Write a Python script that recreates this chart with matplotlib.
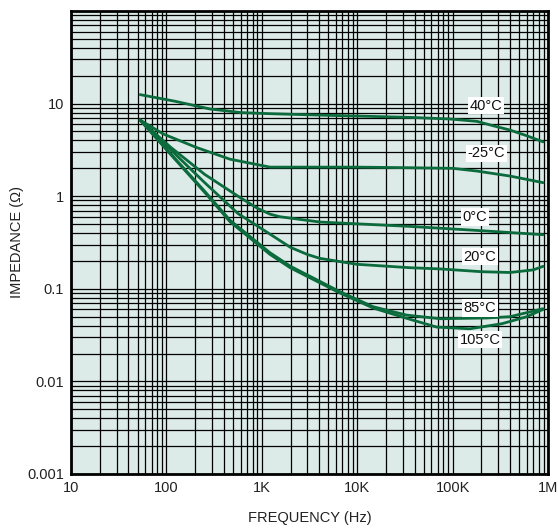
import matplotlib
matplotlib.use("Agg")
import matplotlib.pyplot as plt
from matplotlib.ticker import LogLocator, NullFormatter, FixedLocator

plt.rcParams['font.family'] = ['Liberation Sans', 'DejaVu Sans']

# ---- data ----
f_m40 = [53, 123, 286, 600, 1220, 5000, 35700, 94000, 180000, 265000, 400000, 600000, 890000]
z_m40 = [12.5, 10.6, 8.75, 8.0, 7.78, 7.47, 7.1, 6.82, 6.43, 5.77, 5.18, 4.49, 3.86]

f_m25 = [53, 93, 208, 464, 1220, 10000, 35700, 100000, 179000, 400000, 890000]
z_m25 = [6.65, 4.69, 3.35, 2.51, 2.06, 2.06, 2.03, 2.0, 1.87, 1.65, 1.40]

f_0 = [53, 110, 252, 563, 900, 1220, 1550, 4070, 35700, 200000, 890000]
z_0 = [6.65, 3.4, 1.72, 1.0, 0.74, 0.64, 0.60, 0.526, 0.472, 0.424, 0.384]

f_20 = [53, 110, 252, 563, 1220, 2000, 3000, 4070, 9900, 35700, 73800, 200000, 400000, 700000, 890000]
z_20 = [6.65, 3.2, 1.40, 0.65, 0.389, 0.28, 0.235, 0.213, 0.184, 0.169, 0.164, 0.153, 0.150, 0.160, 0.175]

f_85 = [53, 110, 252, 464, 1220, 2000, 6600, 14700, 33000, 74000, 228000, 400000, 890000]
z_85 = [6.65, 2.9, 1.13, 0.55, 0.245, 0.175, 0.093, 0.064, 0.052, 0.0475, 0.0484, 0.050, 0.061]

f_105 = [53, 110, 252, 464, 1220, 2000, 6600, 14700, 33000, 68000, 152000, 330000, 600000, 890000]
z_105 = [6.65, 2.85, 1.10, 0.53, 0.235, 0.168, 0.09, 0.062, 0.048, 0.0386, 0.037, 0.042, 0.050, 0.060]

series = [(f_m40, z_m40), (f_m25, z_m25), (f_0, z_0), (f_20, z_20), (f_85, z_85), (f_105, z_105)]

labels = ["40°C", "-25°C", "0°C", "20°C", "85°C", "105°C"]
label_f = [224000, 224000, 172000, 194000, 194000, 194000]
label_z = [9.5, 2.9, 0.598, 0.223, 0.062, 0.0283]

x_ticks = [10, 100, 1000, 10000, 100000, 1000000]
x_ticklabels = ["10", "100", "1K", "10K", "100K", "1M"]
y_ticks = [0.001, 0.01, 0.1, 1, 10]
y_ticklabels = ["0.001", "0.01", "0.1", "1", "10"]

# ---- figure ----
fig = plt.figure(figsize=(5.58, 5.29), dpi=100)
ax = fig.add_axes([71/558, 1 - 474/529, (548-71)/558, (474-11)/529])
ax.set_facecolor('#dcebe8')
ax.set_xscale('log')
ax.set_yscale('log')
ax.set_xlim(10, 1e6)
ax.set_ylim(0.001, 100)

ax.xaxis.set_major_locator(FixedLocator(x_ticks))
ax.set_xticklabels(x_ticklabels)
ax.yaxis.set_major_locator(FixedLocator(y_ticks))
ax.set_yticklabels(y_ticklabels)
ax.xaxis.set_minor_locator(LogLocator(base=10, subs=range(2, 10), numticks=50))
ax.yaxis.set_minor_locator(LogLocator(base=10, subs=range(2, 10), numticks=50))
ax.xaxis.set_minor_formatter(NullFormatter())
ax.yaxis.set_minor_formatter(NullFormatter())
ax.tick_params(which='both', length=0, labelsize=10.5, colors='#222222', pad=5)

ax.grid(which='both', color='black', linewidth=0.9)
ax.set_axisbelow(True)

for s in ax.spines.values():
    s.set_linewidth(2)
    s.set_color('black')

for f, z in series:
    ax.plot(f, z, color='#0b6b3c', linewidth=2.0, solid_capstyle='round', zorder=3)

for t, fx, zy in zip(labels, label_f, label_z):
    ax.text(fx, zy, t, fontsize=10.5, color='#111111', ha='center', va='center', zorder=4,
            bbox=dict(boxstyle='square,pad=0.12', facecolor='white', edgecolor='none'))

ax.set_xlabel("FREQUENCY (Hz)", fontsize=10.5, color='#222222')
ax.set_ylabel("IMPEDANCE (Ω)", fontsize=10.5, color='#222222')
ax.xaxis.set_label_coords(0.5, (474 - 511) / 463)
ax.yaxis.set_label_coords((24 - 71) / 477, 0.5)

fig.savefig("out.png", dpi=100, facecolor='white')
